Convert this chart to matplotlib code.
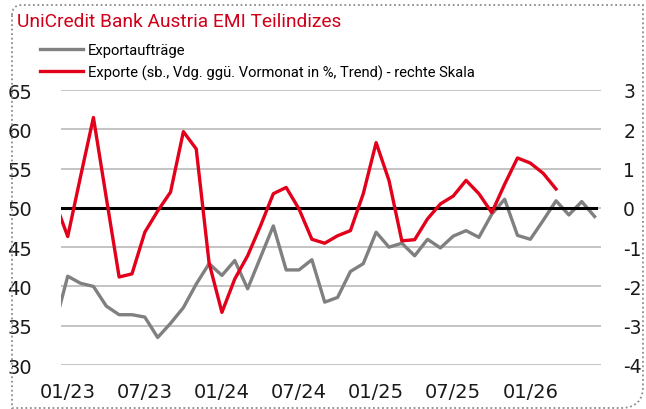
import numpy as np
import matplotlib
matplotlib.use('Agg')
import matplotlib.pyplot as plt
from matplotlib import font_manager
from matplotlib.path import Path
from matplotlib.patches import PathPatch

plt.rcParams['axes.unicode_minus'] = False

# pick a narrow font for title / legend if there is one
names = {f.name for f in font_manager.fontManager.ttflist}
if 'Liberation Sans Narrow' in names:
  textfont = 'Liberation Sans Narrow'
  title_fs, legend_fs = 15, 12.5
else:
  textfont = 'Roboto'
  title_fs, legend_fs = 13.8, 10.6

# months 12/22 .. 06/26 (first point sits left of the visible area)
months = []
for y in range(22, 27):
  for m in range(1, 13):
    months.append('%02d/%d' % (m, y))
months = months[11:11 + 43]

xtick_labels = ['01/23', '07/23', '01/24', '07/24', '01/25', '07/25', '01/26']

# Exportauftraege, left scale
export_orders = [35.1, 41.3, 40.4, 40.0, 37.5, 36.4, 36.4, 36.1, 33.5, 35.3,
                 37.3, 40.3, 42.9, 41.4, 43.3, 39.7, 43.7, 47.7, 42.1, 42.1,
                 43.4, 38.0, 38.6, 41.9, 42.9, 46.9, 45.0, 45.5, 43.9, 46.0,
                 44.9, 46.4, 47.1, 46.25, 49.2, 51.1, 46.5, 46.0, 48.4, 50.9,
                 49.1, 50.8, 48.9]

# Exporte (sb., Vdg. ggue. Vormonat in %, Trend), right scale
exports = [0.16, -0.73, 0.8, 2.3, 0.26, -1.76, -1.68, -0.62, -0.08, 0.4,
           1.94, 1.5, -1.4, -2.66, -1.81, -1.22, -0.46, 0.36, 0.52, -0.03,
           -0.8, -0.9, -0.71, -0.58, 0.36, 1.66, 0.7, -0.84, -0.81, -0.28,
           0.1, 0.3, 0.7, 0.36, -0.12, 0.6, 1.27, 1.14, 0.88, 0.48,
           np.nan, np.nan, np.nan]

W, H = 646, 410
red = '#e2001a'
grey = '#808080'

fig = plt.figure(figsize=(W / 100, H / 100), dpi=100)
ax = fig.add_axes([61.3 / W, 1 - 366 / H, (601 - 61.3) / W, (366 - 91) / H])
ax2 = ax.twinx()

x = np.arange(len(months)) - 1  # 01/23 -> 0

ax.plot(x, export_orders, color=grey, lw=2.4, label='Exportaufträge')
ax2.plot(x, exports, color=red, lw=2.4,
         label='Exporte (sb., Vdg. ggü. Vormonat in %, Trend) - rechte Skala')
ax2.axhline(0, xmin=0, xmax=0.99, color='black', lw=2.2, zorder=1)

ax.set_xlim(-0.5, 41.5)
ax.set_ylim(30, 65)
ax2.set_ylim(-4, 3)
ax.set_yticks(range(30, 66, 5))
ax2.set_yticks(range(-4, 4))
ax.set_xticks([months.index(l) - 1 for l in xtick_labels])
ax.set_xticklabels(xtick_labels)

ax.grid(axis='y', color='#b4b4b4', lw=1.1)
ax.set_axisbelow(True)
for a in (ax, ax2):
  for s in a.spines.values():
    s.set_visible(False)
  a.tick_params(length=0, labelsize=14, colors='#1a1a1a')
ax.tick_params(axis='y', pad=21)
ax.tick_params(axis='x', pad=12)
ax2.tick_params(axis='y', pad=16, labelsize=13.5)

# title and legend
fig.text(17 / W, 1 - 22 / H, 'UniCredit Bank Austria EMI Teilindizes',
         color='#d0001a', fontsize=title_fs, family=textfont, va='center')
h1, l1 = ax.get_legend_handles_labels()
h2, l2 = ax2.get_legend_handles_labels()
fig.legend(h1 + h2, l1 + l2, loc='upper left', bbox_to_anchor=(40 / W, 1 - 44 / H),
           frameon=False, prop={'family': textfont, 'size': legend_fs},
           handlelength=2.9, handletextpad=0.35, labelspacing=0.5,
           borderaxespad=0, borderpad=0)

# dotted frame, rounded at top-left and bottom-right
l, r, t, b = 12, 643, 6, 409
r1, r2 = 10, 22
verts = [(l, t + r1), (l, t), (l + r1, t), (r, t), (r, b - r2), (r, b),
         (r - r2, b), (l, b), (l, t + r1)]
codes = [Path.MOVETO, Path.CURVE3, Path.CURVE3, Path.LINETO, Path.LINETO,
         Path.CURVE3, Path.CURVE3, Path.LINETO, Path.LINETO]
verts = [(vx / W, 1 - vy / H) for vx, vy in verts]
fig.patches.append(PathPatch(Path(verts, codes), transform=fig.transFigure,
                             fill=False, ls=(0, (1, 1.5)), lw=1.3, ec='#8c8c8c'))

fig.savefig('out.png', dpi=100)
